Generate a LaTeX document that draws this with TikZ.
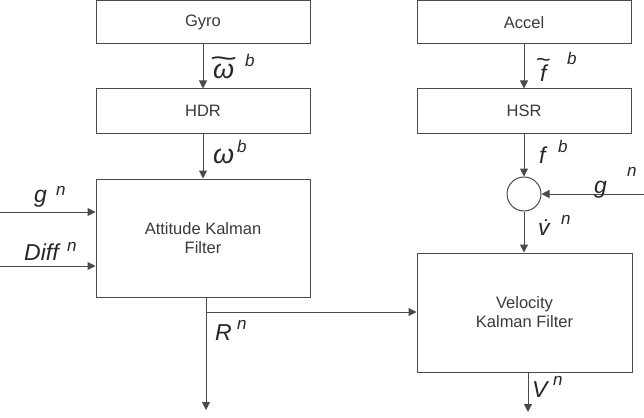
\documentclass[tikz,border=0pt]{standalone}
\usepackage{fontspec}
\setmainfont{Liberation Sans}
\usetikzlibrary{arrows.meta}
\definecolor{lc}{HTML}{4A4A4A}
\definecolor{tc}{HTML}{3A3A3A}
\newcommand\lblfont{\fontsize{23}{23}\selectfont\itshape}
\newcommand\supfont{\fontsize{17}{17}\selectfont\itshape}
\newcommand\omfont{\fontsize{27}{27}\selectfont\itshape}
% letter with a wide tilde above: #1 letter, #2 raise, #3 horizontal stretch
\newcommand\tildeover[3]{\ooalign{#1\cr\hidewidth\raisebox{#2}{\scalebox{#3}[1]{\upshape\textasciitilde}}\hidewidth\cr}}
\begin{document}
\begin{tikzpicture}[x=1pt,y=-1pt,
  box/.style={draw=lc, line width=1pt, fill=white, text=tc, align=center,
    font=\fontsize{16.5}{19}\selectfont, inner sep=0pt},
  arr/.style={draw=lc, line width=1pt, -{Triangle[length=8pt,width=8pt]}},
  lbl/.style={anchor=base west, inner sep=0pt, text=black!85},
]
\useasboundingbox (0,0) rectangle (644,417);
% blocks
\node[box, minimum width=214, minimum height=43] (gyro) at (203,22.5) {Gyro};
\node[box, minimum width=214, minimum height=44] (hdr) at (203,111) {HDR};
\node[box, minimum width=214, minimum height=118] (att) at (203,238) {Attitude Kalman\\Filter};
\node[box, minimum width=214, minimum height=43] (accel) at (524,22.5) {Accel};
\node[box, minimum width=214, minimum height=44] (hsr) at (524,111) {HSR};
\node[box, minimum width=215, minimum height=119] (vel) at (524.5,312.5) {Velocity\\Kalman Filter};
\node[draw=lc, line width=1pt, circle, minimum size=34, inner sep=0pt, fill=white] (sum) at (524,194) {};
% connectors
\draw[arr] (gyro) -- (hdr);
\draw[arr] (hdr) -- (att);
\draw[arr] (accel) -- (hsr);
\draw[arr] (hsr) -- (sum);
\draw[arr] (sum) -- (sum |- vel.north);
\coordinate (gin) at (644,194);
\draw[arr] (gin) -- (sum);
\coordinate (gl) at (0,212);
\draw[arr] (gl) -- (gl -| att.west);
\coordinate (dl) at (0,266);
\draw[arr] (dl) -- (dl -| att.west);
\coordinate (rend) at (206,410);
\draw[arr] (rend |- att.south) -- (rend);
\coordinate (br) at (206,312);
\draw[arr] (br) -- (br -| vel.west);
\coordinate (vend) at (528,412);
\draw[arr] (vend |- vel.south) -- (vend);
% labels
\node[lbl] (l1) at (213,79) {\omfont\tildeover{ω}{11pt}{1.75}};
\node[lbl] (l1s) at (245,67) {\supfont b};
\node[lbl] (l2) at (213,163) {\omfont ω};
\node[lbl] (l2s) at (237,152) {\supfont b};
\node[lbl] (l3) at (540,82) {\lblfont\tildeover{f}{14pt}{1.1}};
\node[lbl] (l3s) at (567,65) {\supfont b};
\node[lbl] (l4) at (539,163) {\lblfont f};
\node[lbl] (l4s) at (558,152) {\supfont b};
\node[lbl] (l5) at (594,193) {\lblfont g};
\node[lbl] (l5s) at (627,176) {\supfont n};
\node[lbl] (l6) at (538,235) {\lblfont \.{v}};
\node[lbl] (l6s) at (561,224) {\supfont n};
\node[lbl] (l7) at (34,202) {\lblfont g};
\node[lbl] (l7s) at (56,195) {\supfont n};
\node[lbl] (l8) at (24,260) {\lblfont Diff};
\node[lbl] (l8s) at (67,251) {\supfont n};
\node[lbl] (l9) at (215,340) {\lblfont R};
\node[lbl] (l9s) at (237,329) {\supfont n};
\node[lbl] (l10) at (532,397) {\lblfont V};
\node[lbl] (l10s) at (553,385) {\supfont n};
\end{tikzpicture}
\end{document}
